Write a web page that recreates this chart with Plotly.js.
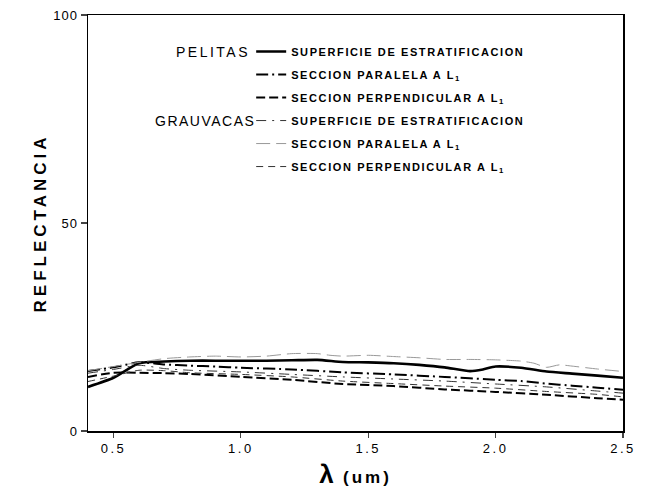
<!DOCTYPE html>
<html><head><meta charset="utf-8">
<script src="https://cdn.plot.ly/plotly-3.0.1.min.js"></script>
<style>body{margin:0;background:#fff}</style>
</head><body><div id="chart" style="width:660px;height:494px"></div>
<script>
// wavelength (um)
const wlPelSup = [0.4,0.5,0.6,0.7,0.8,0.9,1.0,1.1,1.2,1.3,1.4,1.5,1.6,1.7,1.8,1.9,1.95,2.0,2.1,2.2,2.3,2.4,2.5];
const pelSup   = [10.6,12.8,16.3,16.7,16.9,16.9,16.9,16.9,17.0,17.1,16.6,16.5,16.3,15.9,15.3,14.4,14.8,15.5,15.2,14.3,13.8,13.3,12.8];

const wlPelPar = [0.4,0.5,0.6,0.7,0.8,0.9,1.0,1.2,1.4,1.6,1.8,2.0,2.1,2.2,2.3,2.4,2.5];
const pelPar   = [14.4,15.3,16.5,16.0,15.7,15.5,15.2,14.8,14.1,13.6,13.0,12.3,12.0,11.4,10.9,10.4,9.9];

const wlPelPerp = [0.4,0.5,0.6,0.7,0.8,1.0,1.2,1.4,1.6,1.8,2.0,2.2,2.4,2.5];
const pelPerp   = [13.0,14.0,14.0,13.9,13.7,13.0,12.3,11.3,10.8,10.0,9.4,8.7,7.9,7.5];

const wlGraSup = [0.4,0.5,0.6,0.7,0.8,1.0,1.2,1.4,1.6,1.8,2.0,2.2,2.4,2.5];
const graSup   = [13.9,14.8,15.8,15.0,14.6,14.2,13.6,13.0,12.5,12.0,11.3,10.6,9.6,9.1];

const wlGraPar = [0.4,0.5,0.6,0.7,0.8,0.9,1.0,1.1,1.2,1.3,1.35,1.4,1.5,1.6,1.7,1.8,1.9,2.0,2.1,2.15,2.2,2.25,2.3,2.4,2.5];
const graPar   = [14.5,15.5,16.5,17.4,17.8,18.0,17.8,18.0,18.6,18.6,18.2,18.0,18.2,17.9,17.6,17.2,17.2,17.1,16.8,16.3,15.3,15.9,15.6,14.9,14.3];

const wlGraPerp = [0.4,0.5,0.6,0.7,0.8,1.0,1.2,1.4,1.6,1.8,2.0,2.2,2.4,2.5];
const graPerp   = [11.9,13.2,14.6,14.5,14.0,13.6,13.0,12.0,11.4,10.8,10.3,9.5,8.8,8.2];

const names = [
  'SUPERFICIE DE ESTRATIFICACION',
  'SECCION PARALELA A L<sub>1</sub>',
  'SECCION PERPENDICULAR A L<sub>1</sub>'
];
const groupLabels = ['PELITAS','GRAUVACAS'];
const xTicks = [0.5,1.0,1.5,2.0,2.5];
const xTickText = ['0.5','1.0','1.5','2.0','2.5'];
const yTicks = [0,50,100];
const yTickText = ['0','50','100'];

const sp = (t,px) => '<span style="letter-spacing:'+px+'px">'+t+'</span>';

function tr(x,y,name,color,width,dash,g){
  return {x:x,y:y,name:sp(name,1.6),type:'scatter',mode:'lines',legendgroup:g,
    line:{color:color,width:width,dash:dash,shape:'spline',smoothing:0.6},hoverinfo:'skip'};
}
const data = [
  tr(wlPelSup,pelSup,names[0],'#000',2.6,'solid','a'),
  tr(wlPelPar,pelPar,names[1],'#000',2,'12px,4px,2px,4px','b'),
  tr(wlPelPerp,pelPerp,names[2],'#000',2,'9px,4px','c'),
  tr(wlGraSup,graSup,names[0],'#333',1,'10px,6px,2px,6px','d'),
  tr(wlGraPar,graPar,names[1],'#999',1,'14px,6px','e'),
  tr(wlGraPerp,graPerp,names[2],'#333',1,'7px,5px','f')
];

const layout = {
  width:660,height:494,
  margin:{l:88,r:37,t:15,b:63},
  paper_bgcolor:'#fff',plot_bgcolor:'#fff',
  font:{family:'Liberation Sans, Arial, sans-serif',color:'#000'},
  showlegend:true,
  legend:{x:0.305,y:0.947,xanchor:'left',yanchor:'top',bgcolor:'rgba(0,0,0,0)',
    font:{size:11,family:'Liberation Sans, Arial, sans-serif',weight:'bold',color:'#000'},
    tracegroupgap:4,itemwidth:30,traceorder:'grouped'},
  xaxis:{range:[0.4,2.5],tickvals:xTicks,ticktext:xTickText.map(t=>sp(t,2.5)),ticks:'outside',ticklen:5,tickwidth:1.2,
    showline:true,linewidth:1.5,linecolor:'#000',mirror:true,showgrid:false,zeroline:false,
    tickfont:{size:13},
    title:{text:'<b><span style="font-size:26px">λ</span>  '+sp('(um)',3)+'</b>',font:{size:17},standoff:16}},
  yaxis:{range:[0,100],tickvals:yTicks,ticktext:yTickText.map(t=>sp(t,1)),ticks:'outside',ticklen:6,tickwidth:1.2,
    showline:true,linewidth:1.5,linecolor:'#000',mirror:true,showgrid:false,zeroline:false,
    tickfont:{size:13},
    title:{text:'<b>'+sp('REFLECTANCIA',4)+'</b>',font:{size:17},standoff:2}},
  annotations:[
    {xref:'paper',yref:'paper',x:(252-88)/535,y:(431-52)/416,xanchor:'right',yanchor:'middle',
     text:sp(groupLabels[0],2.5),showarrow:false,font:{size:14}},
    {xref:'paper',yref:'paper',x:(257-88)/535,y:(431-121)/416,xanchor:'right',yanchor:'middle',
     text:sp(groupLabels[1],1.5),showarrow:false,font:{size:14}}
  ]
};
Plotly.newPlot('chart',data,layout,{staticPlot:true,displayModeBar:false});
</script></body></html>
